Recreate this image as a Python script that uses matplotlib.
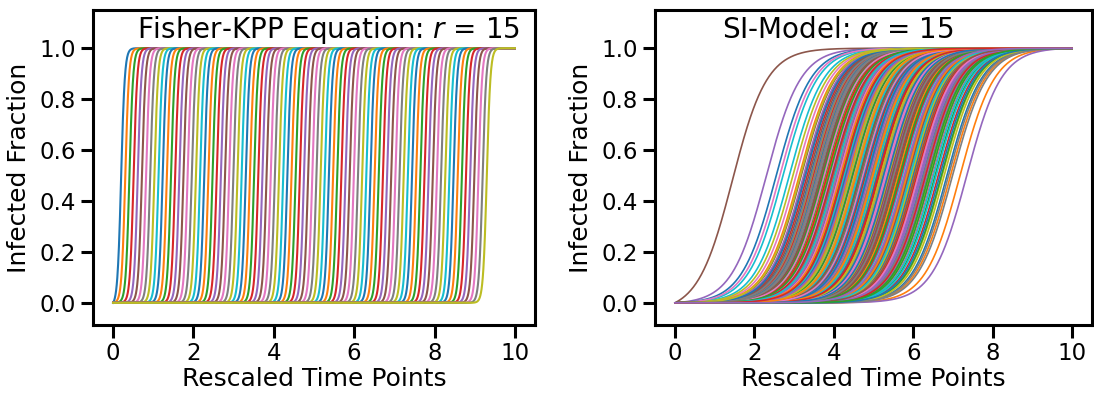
import matplotlib
matplotlib.use("Agg")
import matplotlib.pyplot as plt
import numpy as np

# Fisher-KPP: arrival of the front at evenly spaced sites
kpp_r = 15
kpp_first_arrival = 0.20
kpp_last_arrival = 9.30
kpp_n_sites = 89
kpp_steepness = 22.0

# SI-model: half-infection times of each node (rescaled time units)
si_alpha = 15
si_midpoints = [
    4.62, 5.31, 3.87, 4.95, 2.30, 1.45, 5.74, 4.21, 3.46, 5.08,
    4.48, 6.12, 3.95, 5.52, 4.77, 3.18, 5.89, 4.36, 6.41, 2.72,
    5.15, 4.03, 4.86, 6.63, 3.61, 5.43, 4.58, 5.97, 3.79, 4.92,
    2.55, 5.26, 4.41, 3.33, 6.28, 4.69, 5.61, 3.92, 4.14, 5.83,
    6.85, 4.54, 3.71, 5.19, 4.27, 6.02, 3.05, 4.98, 5.37, 4.09,
    5.68, 3.54, 4.81, 6.47, 4.33, 5.02, 3.84, 5.56, 4.65, 2.88,
    4.18, 5.91, 3.66, 4.73, 6.19, 3.99, 5.24, 4.44, 6.73, 5.11,
    3.41, 4.89, 5.49, 4.06, 5.79, 3.26, 4.59, 6.36, 4.24, 5.33,
    4.71, 6.94, 3.89, 5.64, 4.12, 5.04, 3.58, 4.83, 6.07, 4.39,
    5.46, 4.01, 6.55, 3.74, 5.21, 4.63, 2.64, 5.86, 4.29, 3.97,
    6.24, 4.52, 5.13, 3.49, 4.91, 5.71, 4.16, 6.89, 3.81, 5.28,
    4.46, 3.13, 5.59, 4.79, 6.33, 4.07, 5.39, 3.64, 4.97, 5.94,
    3.93, 5.17, 4.32, 6.09, 4.67, 3.37, 5.77, 4.55, 5.06, 6.58,
    4.23, 5.62, 3.78, 4.87, 5.35, 4.11, 6.46, 3.52, 5.23, 4.74,
    5.99, 4.37, 6.71, 4.02, 5.44, 3.69, 4.93, 5.81, 2.97, 4.57,
    5.09, 3.86, 4.64, 5.53, 6.16, 4.28, 5.29, 3.98, 6.78, 4.84,
    3.57, 5.67, 4.19, 4.99, 3.24, 5.41, 4.51, 6.26, 4.06, 5.72,
    4.76, 6.04, 3.73, 5.14, 4.43, 5.88, 3.91, 4.68, 5.38, 6.51,
    4.31, 5.01, 6.39, 3.83, 4.88, 5.57, 4.13, 3.44, 5.96, 4.61,
    5.25, 7.18, 4.47, 5.69, 7.35, 3.68, 6.13, 4.94, 5.18, 4.26,
    3.29, 5.84, 4.72, 6.31, 4.08, 5.47, 3.76, 6.99, 4.53, 5.03,
    4.85, 4.17, 5.66, 3.96, 6.21, 4.66, 5.32, 3.59, 4.42, 5.92,
    6.67, 4.98, 3.88, 5.12, 4.34, 6.05, 4.73, 5.51, 3.16, 4.03,
    5.36, 4.56, 6.44, 4.22, 5.78,
]
si_steepness = 2.3

t_end = 10.0
x_ticks = [0, 2, 4, 6, 8, 10]
y_ticks = [0.0, 0.2, 0.4, 0.6, 0.8, 1.0]


def sigmoid_curve(t, mid, k):
    # logistic rescaled so the curve runs from exactly 0 at t=0 to 1 at t_end
    f = 1.0 / (1.0 + np.exp(-k * (t - mid)))
    f0 = 1.0 / (1.0 + np.exp(k * mid))
    f1 = 1.0 / (1.0 + np.exp(-k * (t_end - mid)))
    return (f - f0) / (f1 - f0)


plt.rcParams["font.family"] = "DejaVu Sans"
plt.rcParams["axes.linewidth"] = 2.2
plt.rcParams["xtick.major.width"] = 2.2
plt.rcParams["ytick.major.width"] = 2.2
plt.rcParams["xtick.major.size"] = 9
plt.rcParams["ytick.major.size"] = 9
plt.rcParams["xtick.labelsize"] = 16.5
plt.rcParams["ytick.labelsize"] = 16.5
plt.rcParams["axes.labelsize"] = 18

fig = plt.figure(figsize=(10.94, 3.95), dpi=100)
ax1 = fig.add_axes([93 / 1094, 70 / 395, 442 / 1094, 315 / 395])
ax2 = fig.add_axes([655 / 1094, 70 / 395, 437 / 1094, 315 / 395])

t = np.linspace(0, t_end, 2000)
arrivals = np.linspace(kpp_first_arrival, kpp_last_arrival, kpp_n_sites)
for mid in arrivals:
    ax1.plot(t, sigmoid_curve(t, mid, kpp_steepness), lw=1.5)

t2 = np.linspace(0, t_end, 600)
for mid in si_midpoints:
    ax2.plot(t2, sigmoid_curve(t2, mid, si_steepness), lw=1.2)

for ax in (ax1, ax2):
    ax.set_xlim(-0.5, 10.5)
    ax.set_ylim(-0.087, 1.15)
    ax.set_xticks(x_ticks)
    ax.set_yticks(y_ticks)
    ax.set_yticklabels([f"{v:.1f}" for v in y_ticks])
    ax.set_xlabel("Rescaled Time Points", labelpad=1)
    ax.set_ylabel("Infected Fraction", labelpad=6)

ax1.text(0.0995, 0.912, f"Fisher-KPP Equation: $r$ = {kpp_r}", transform=ax1.transAxes,
         fontsize=20, ha="left", va="baseline")
ax2.text(0.153, 0.912, f"SI-Model: $\\alpha$ = {si_alpha}", transform=ax2.transAxes,
         fontsize=20, ha="left", va="baseline")

fig.savefig("out.png", dpi=100)
